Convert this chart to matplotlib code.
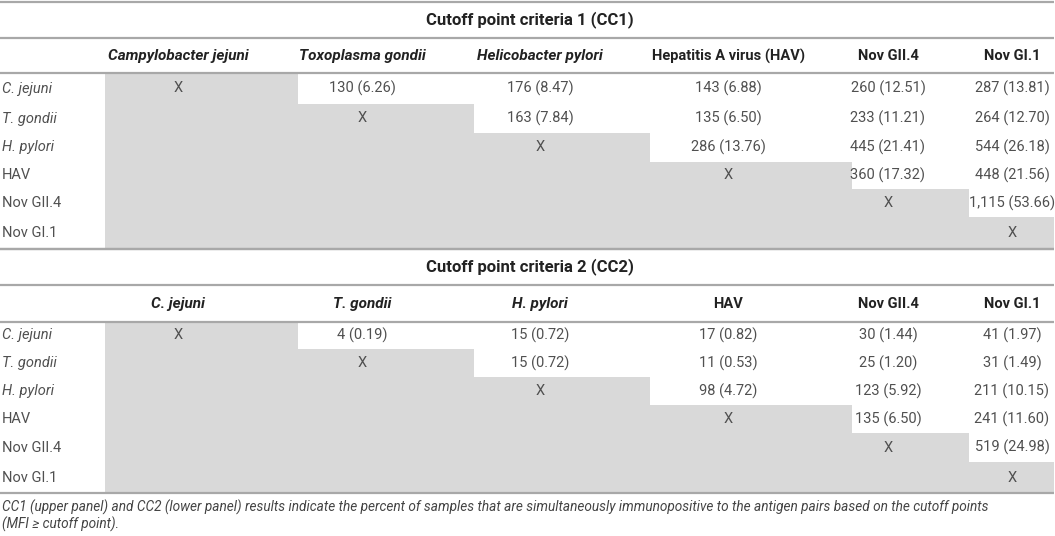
import matplotlib.pyplot as plt
from matplotlib.patches import Rectangle

plt.rcParams['font.family'] = ['Roboto', 'DejaVu Sans']

# ---- data ----
row_labels = ['C. jejuni', 'T. gondii', 'H. pylori', 'HAV', 'Nov GII.4', 'Nov GI.1']
row_italic = [True, True, True, False, False, False]

cc1_title = 'Cutoff point criteria 1 (CC1)'
cc1_headers = ['Campylobacter jejuni', 'Toxoplasma gondii', 'Helicobacter pylori',
               'Hepatitis A virus (HAV)', 'Nov GII.4', 'Nov GI.1']
cc2_title = 'Cutoff point criteria 2 (CC2)'
cc2_headers = ['C. jejuni', 'T. gondii', 'H. pylori', 'HAV', 'Nov GII.4', 'Nov GI.1']
header_italic = [True, True, True, False, False, False]

# upper triangle, one list per row (columns to the right of the diagonal)
cc1_counts = [[130, 176, 143, 260, 287],
              [163, 135, 233, 264],
              [286, 445, 544],
              [360, 448],
              [1115],
              []]
cc1_pct = [[6.26, 8.47, 6.88, 12.51, 13.81],
           [7.84, 6.50, 11.21, 12.70],
           [13.76, 21.41, 26.18],
           [17.32, 21.56],
           [53.66],
           []]
cc2_counts = [[4, 15, 17, 30, 41],
              [15, 11, 25, 31],
              [98, 123, 211],
              [135, 241],
              [519],
              []]
cc2_pct = [[0.19, 0.72, 0.82, 1.44, 1.97],
           [0.72, 0.53, 1.20, 1.49],
           [4.72, 5.92, 10.15],
           [6.50, 11.60],
           [24.98],
           []]

caption = ['CC1 (upper panel) and CC2 (lower panel) results indicate the percent of samples '
           'that are simultaneously immunopositive to the antigen pairs based on the cutoff points',
           '(MFI \u2265 cutoff point).']

# ---- layout (pixels) ----
W, H = 1055, 536
col_edges = [105, 298, 474, 650, 852, 969, 1054]
col_centers = [178, 362, 540, 728, 888, 1012]
fill_gray = '#d9d9d9'
line_gray = '#a8a8a8'
txt = '#505050'
fs = 10.5

fig = plt.figure(figsize=(W / 100, H / 100), dpi=100)
ax = fig.add_axes([0, 0, 1, 1])
ax.set_xlim(0, W)
ax.set_ylim(H, 0)
ax.axis('off')


def hline(y):
    ax.plot([0, col_edges[-1]], [y, y], color=line_gray, lw=1.6, solid_capstyle='butt')


def draw_panel(title, headers, counts, pct, top, title_y, header_y, rows):
    hline(top)
    ax.text(530, title_y, title, ha='center', va='center', fontsize=12,
            fontweight='bold', color='#222222')
    hline(top + 35.5)
    for c, h in enumerate(headers):
        ax.text(col_centers[c], header_y, h, ha='center', va='center',
                fontsize=11 if header_italic[c] else 10.5,
                fontweight='bold', style='italic' if header_italic[c] else 'normal',
                color='#222222')
    hline(rows[0])
    for r, lab in enumerate(row_labels):
        y0, y1 = rows[r], rows[r + 1]
        yc = (y0 + y1) / 2
        ax.add_patch(Rectangle((col_edges[0], y0), col_edges[r + 1] - col_edges[0], y1 - y0,
                               facecolor=fill_gray, edgecolor='none', zorder=0))
        ax.text(2, yc, lab, ha='left', va='center', fontsize=fs,
                style='italic' if row_italic[r] else 'normal', color=txt)
        ax.text(col_centers[r], yc, 'X', ha='center', va='center', fontsize=fs,
                color=txt)
        for k, (n, p) in enumerate(zip(counts[r], pct[r])):
            c = r + 1 + k
            ax.text(col_centers[c], yc, f'{n:,} ({p:.2f})', ha='center', va='center',
                    fontsize=fs, color=txt)
    hline(rows[-1])


draw_panel(cc1_title, cc1_headers, cc1_counts, cc1_pct, 2, 20, 56,
           [73, 104, 133, 161.5, 189, 217, 249])
draw_panel(cc2_title, cc2_headers, cc2_counts, cc2_pct, 249, 267, 304,
           [321.5, 349, 377, 405, 433, 462, 493])

for i, line in enumerate(caption):
    ax.text(2, 507 + i * 17, line, ha='left', va='center', fontsize=9.8,
            style='italic', color='#444444')

fig.savefig('out.png', dpi=100)
